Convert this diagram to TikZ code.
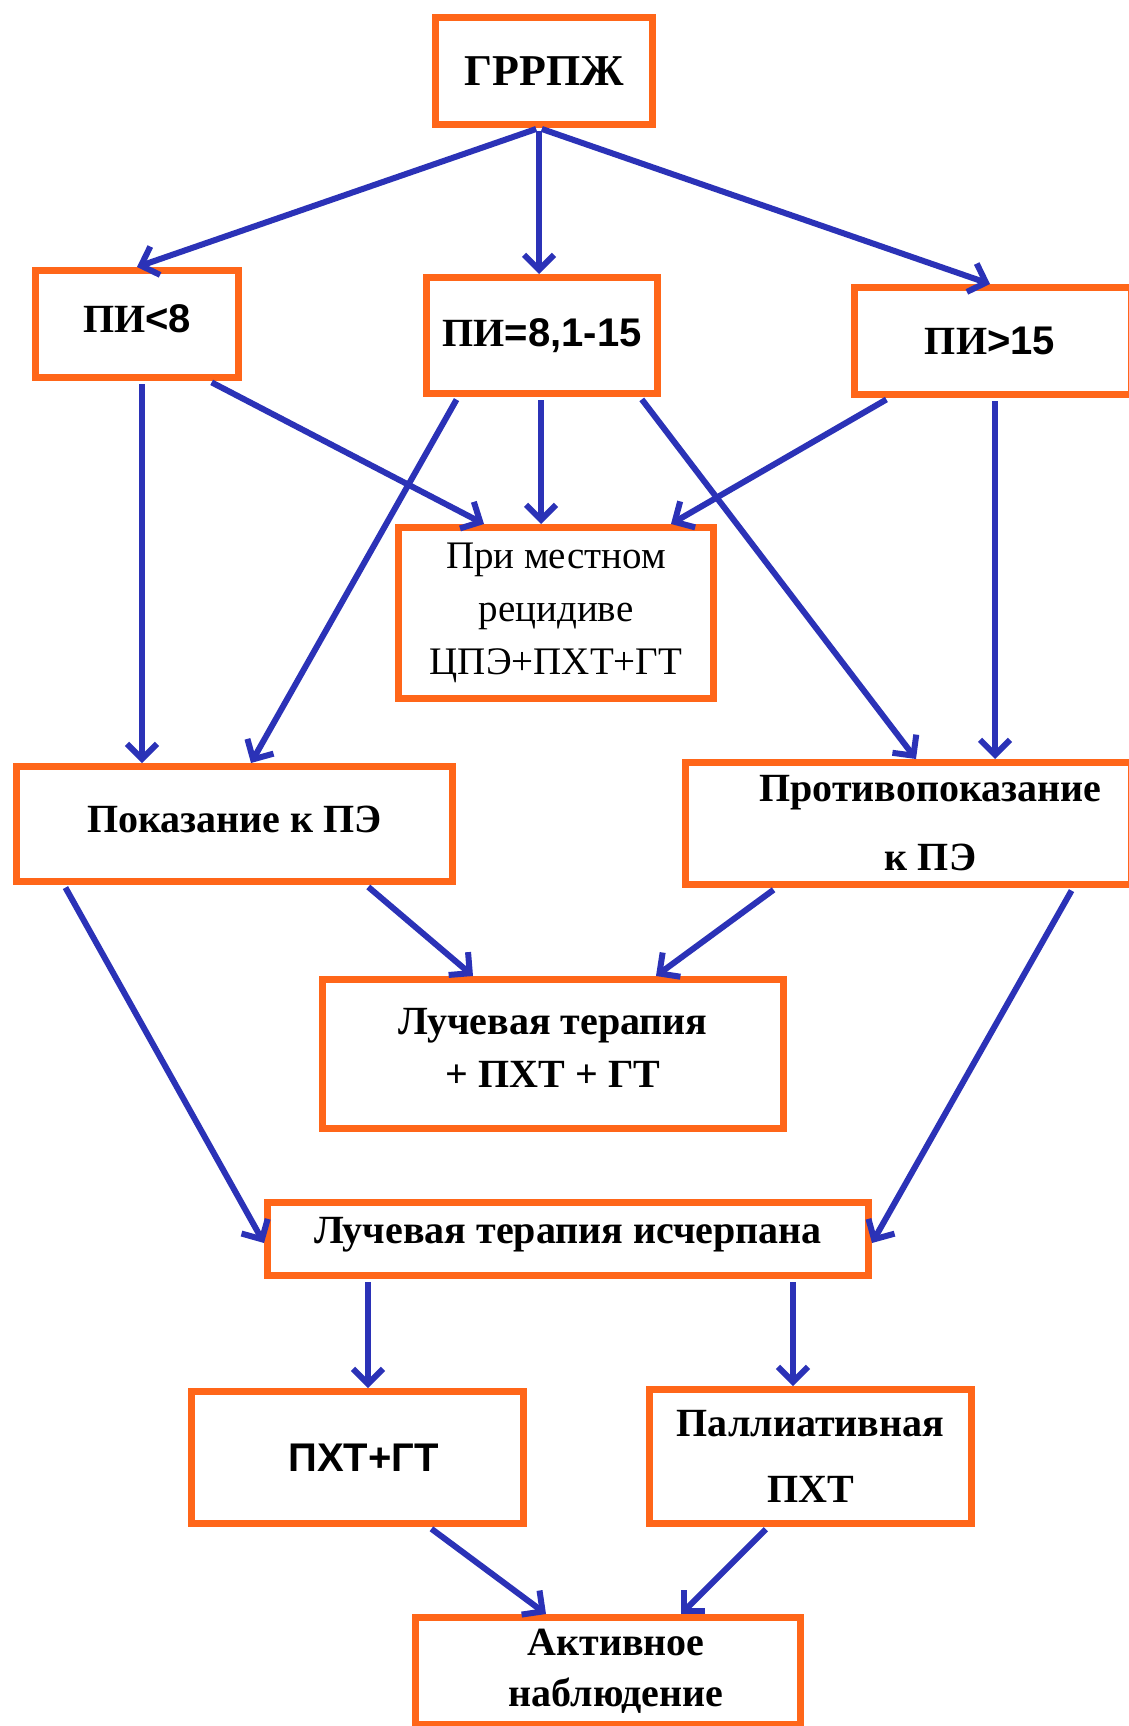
\documentclass[tikz,border=0pt]{standalone}
\usepackage{fontspec}
\setmainfont{Liberation Serif}
\newfontfamily\arl{Liberation Sans}
\usetikzlibrary{arrows.meta}
\definecolor{boxorange}{RGB}{255,102,25}
\definecolor{arrowblue}{RGB}{43,50,183}
\begin{document}
\begin{tikzpicture}[x=1pt,y=-1pt,
  box/.style={draw=boxorange, line width=7pt, fill=white, inner sep=0pt, align=center},
  bb/.style={font=\bfseries\fontsize{40}{53}\selectfont},
  arr/.style={draw=arrowblue, line width=6pt, shorten <=3pt,
    -{Straight Barb[length=15pt,width=30pt]}}]
\useasboundingbox (0,0) rectangle (1129,1726);
\fill[white] (0,0) rectangle (1129,1726);

\node[box, minimum width=217pt, minimum height=107pt, font=\bfseries\fontsize{44}{50}\selectfont] (g) at (544,71) {ГРРПЖ};

\node[box, minimum width=203pt, minimum height=107pt,
  label={[name=at, yshift=5pt, bb]center:ПИ{\arl <8}}] (a) at (137,324) {};
\node[box, bb, minimum width=231pt, minimum height=116pt] (b) at (542,335.5) {ПИ{\arl =8,1-15}};
\node[box, bb, minimum width=277pt, minimum height=107pt] (c) at (993,341) {\hspace*{-6pt}ПИ{\arl >15}};

\node[box, minimum width=315pt, minimum height=171pt, font=\fontsize{39}{53}\selectfont] (d) at (556,613) {При местном\\рецидиве\\ЦПЭ+ПХТ+ГТ};

\node[box, minimum width=436pt, minimum height=115pt,
  label={[name=et, yshift=5pt, bb]center:Показание к ПЭ}] (e) at (234.5,824) {};
\node[box, minimum width=446pt, minimum height=122pt,
  label={[name=ft, xshift=22pt, align=center, font=\bfseries\fontsize{40}{69}\selectfont]center:Противопоказание\\к ПЭ}] (f) at (908.5,823.5) {};

\node[box, minimum width=461pt, minimum height=149pt,
  label={[name=g2t, yshift=6pt, bb, align=center]center:Лучевая терапия\\+ ПХТ + ГТ}] (g2) at (553,1054) {};
\node[box, minimum width=601pt, minimum height=73pt,
  label={[name=ht, yshift=4pt, bb]center:Лучевая терапия исчерпана}] (h) at (568,1239) {};

\node[box, minimum width=332pt, minimum height=132pt, font=\bfseries\arl\fontsize{40}{50}\selectfont] (i) at (357.5,1457.5) {\hspace*{12pt}ПХТ+ГТ};
\node[box, minimum width=322pt, minimum height=134pt, font=\bfseries\fontsize{40}{66}\selectfont] (j) at (810.5,1456.5) {Паллиативная\\ПХТ};
\node[box, minimum width=385pt, minimum height=107pt, font=\bfseries\fontsize{40}{51}\selectfont] (k) at (608,1671) {\hspace*{16pt}Активное\\\hspace*{16pt}наблюдение};

% arrows
\draw[arr] ([xshift=-5pt]g.south) -- (a.north);
\draw[arr] ([xshift=-5pt]g.south) -- ([xshift=-3pt]b.north);
\draw[arr] ([xshift=-5pt]g.south) -- ([xshift=-3pt]c.north);

\draw[arr] ([xshift=5pt]a.south) -- ([xshift=-92.5pt]e.north);
\draw[arr] ([xshift=72pt]a.south) -- ([xshift=-72pt]d.north);

\draw[arr] ([xshift=-84pt]b.south) -- ([xshift=16.5pt]e.north);
\draw[arr] ([xshift=-1pt]b.south) -- ([xshift=-15pt]d.north);
\draw[arr] ([xshift=98pt]b.south) -- ([xshift=7.5pt]f.north);

\draw[arr] ([xshift=-104pt]c.south) -- ([xshift=115pt]d.north);
\draw[arr] ([xshift=2pt]c.south) -- ([xshift=86.5pt]f.north);

\draw[arr] ([xshift=-170.5pt]e.south) -- ([yshift=-4pt]h.west);
\draw[arr] ([xshift=131.5pt]e.south) -- ([xshift=-80pt]g2.north);
\draw[arr] ([xshift=-132.5pt]f.south) -- ([xshift=103pt]g2.north);
\draw[arr] ([xshift=164.5pt]f.south) -- ([yshift=-4pt]h.east);

\draw[arr] ([xshift=-200pt]h.south) -- ([xshift=10.5pt]i.north);
\draw[arr] ([xshift=225pt]h.south) -- ([xshift=-17.5pt]j.north);

\draw[arr] ([xshift=71.5pt]i.south) -- ([xshift=-62pt]k.north);
\draw[arr] ([xshift=-42.5pt]j.south) -- ([xshift=73pt]k.north);
\end{tikzpicture}
\end{document}
